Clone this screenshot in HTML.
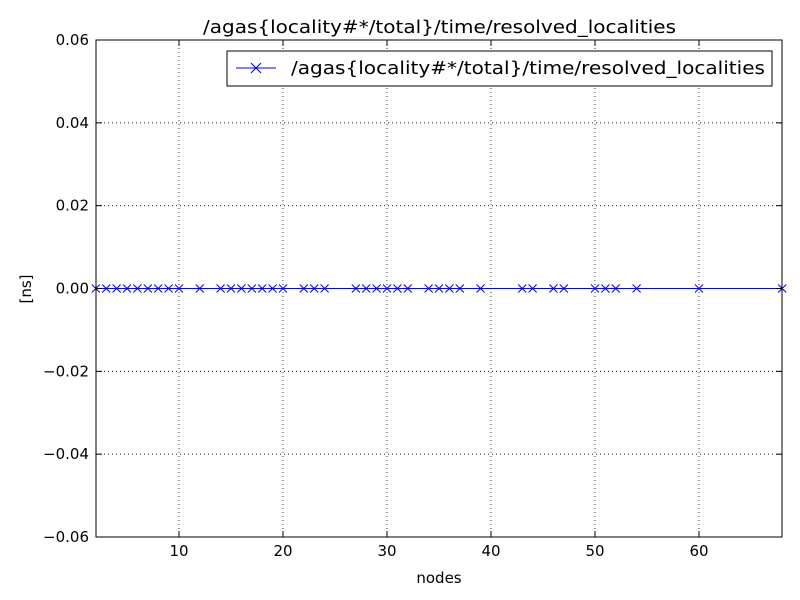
<!DOCTYPE html>
<html><head><style>body{margin:0;background:#fff}svg{display:block}</style></head><body>
<svg width="800" height="600" xmlns="http://www.w3.org/2000/svg" font-family="DejaVu Sans, Liberation Sans, sans-serif">
<rect width="800" height="600" fill="#fff"/>
<g id="grid" stroke="#000" stroke-width="0.8" stroke-dasharray="1,3">
</g>
<g id="plot"></g>
<rect x="96" y="40" width="686" height="497" fill="none" stroke="#000" stroke-width="1"/>
<text x="203" y="33" font-size="18" textLength="473" lengthAdjust="spacingAndGlyphs">/agas{locality#*/total}/time/resolved_localities</text>
<text x="439" y="583" font-size="15" text-anchor="middle">nodes</text>
<text x="31" y="289" font-size="15" text-anchor="middle" transform="rotate(-90 31 289)">[ns]</text>
<g id="ticks" font-size="15"></g>
<rect x="227" y="51" width="545" height="35" fill="#fff" stroke="#000" stroke-width="1"/>
<line x1="236" y1="68" x2="276" y2="68" stroke="#00f" stroke-width="1"/>
<path d="M251,63 l10,10 M261,63 l-10,10" stroke="#00f" stroke-width="1"/>
<text x="291" y="74" font-size="18" textLength="474" lengthAdjust="spacingAndGlyphs">/agas{locality#*/total}/time/resolved_localities</text>
</svg>
<script>
const ns="http://www.w3.org/2000/svg";
function el(p,t,a,txt){const e=document.createElementNS(ns,t);for(const k in a)e.setAttribute(k,a[k]);if(txt!==undefined)e.textContent=txt;p.appendChild(e);return e;}
const X=v=>95.8+(v-2)*10.4, Y=v=>288.5-v*4141.7;
const g=document.getElementById('grid'),tk=document.getElementById('ticks'),p=document.getElementById('plot');
for(let v=10;v<=60;v+=10){const x=X(v);el(g,'line',{x1:x,y1:40,x2:x,y2:537});
 el(tk,'line',{x1:x,y1:537,x2:x,y2:531,stroke:'#000'});el(tk,'line',{x1:x,y1:40,x2:x,y2:46,stroke:'#000'});
 el(tk,'text',{x:x,y:556,'text-anchor':'middle'},String(v));}
for(let i=-3;i<=3;i++){const v=i*0.02,y=Y(v);if(i>-3&&i<3)el(g,'line',{x1:96,y1:y,x2:782,y2:y});
 el(tk,'line',{x1:96,y1:y,x2:102,y2:y,stroke:'#000'});el(tk,'line',{x1:782,y1:y,x2:776,y2:y,stroke:'#000'});
 el(tk,'text',{x:89,y:y+5,'text-anchor':'end'},(v<0?'\u2212':'')+Math.abs(v).toFixed(2));}
el(p,'line',{x1:96,y1:288.5,x2:782,y2:288.5,stroke:'#00f','stroke-width':1});
const xs=[2,3,4,5,6,7,8,9,10,12,14,15,16,17,18,19,20,22,23,24,27,28,29,30,31,32,34,35,36,37,39,43,44,46,47,50,51,52,54,60,68];
let d='';xs.forEach(v=>{const x=X(v),y=288.5;d+=`M${x-4},${y-4}L${x+4},${y+4}M${x+4},${y-4}L${x-4},${y+4}`;});
el(p,'path',{d:d,stroke:'#00f','stroke-width':1,fill:'none'});
</script>
</body></html>
